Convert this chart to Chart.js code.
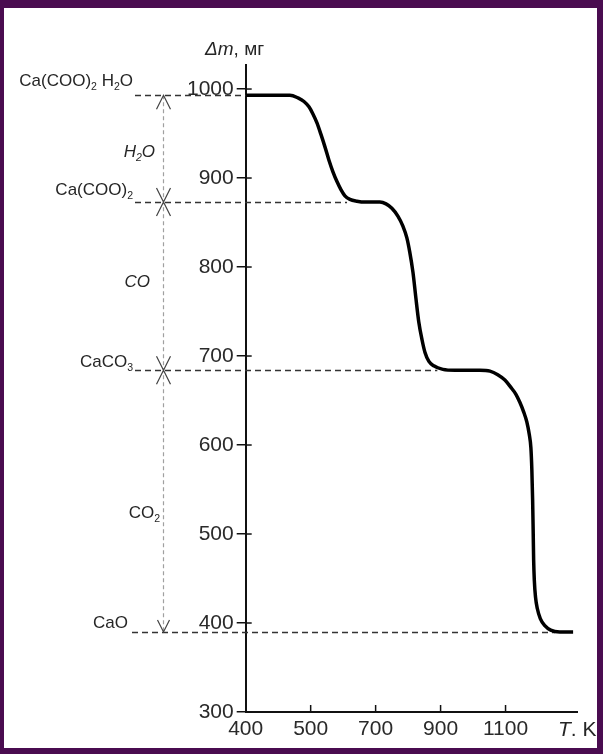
<!DOCTYPE html>
<html>
<head>
<meta charset="utf-8">
<title>Термогравиметрия оксалата кальция</title>
<script src="https://cdn.jsdelivr.net/npm/chart.js@4/dist/chart.umd.min.js"></script>
<style>
  html, body { margin: 0; padding: 0; background: #4a0c50; }
  #panel { position: absolute; left: 4px; top: 8px; width: 593px; height: 740px; background: #ffffff; }
  #c { position: absolute; left: 0; top: 0; }
</style>
</head>
<body>
<div id="panel"></div>
<canvas id="c" width="603" height="754"></canvas>
<script>
// Temperature axis: tick values (K), drawn at equal spacing, and their labels
const tempTicks = [400, 500, 700, 900, 1100];
const tempTickLabels = ['400', '500', '700', '900', '1100'];
// Mass axis ticks (mg)
const massTicks = [300, 400, 500, 600, 700, 800, 900, 1000];

// Thermogravimetric curve: temperature (K) and sample mass (mg)
const curveT = [400, 453, 468, 480.5, 489.7, 497.4, 507, 519.4, 531.7, 544,
                556.3, 568.6, 581, 593.2, 605.5, 621, 642.5, 667, 713, 732,
                750, 769, 784, 796, 805, 815, 824, 833, 843, 852,
                864, 879, 907, 944, 990, 1021, 1052, 1076, 1098, 1116,
                1132, 1144, 1156, 1165.5, 1173, 1178, 1181, 1183.4, 1185, 1186.5,
                1188.6, 1192.3, 1198, 1207, 1221, 1239, 1267, 1308];
const curveM = [993, 993, 993, 990, 986, 980, 972, 962, 949, 935,
                920, 907, 896, 887, 880, 876, 874, 873, 873, 871,
                866, 857, 846, 833, 817, 794, 765, 738, 718, 704,
                694, 689, 685, 684, 684, 684, 683, 679, 673, 665,
                657, 648, 637, 626, 612, 597, 572, 538, 505, 471,
                448, 429, 416, 405, 397, 392, 390, 390];

// Plateau compositions, their mass levels and where each level meets the curve
const phaseNames = ['Ca(COO)₂ H₂O', 'Ca(COO)₂', 'CaCO₃', 'CaO'];
const phaseMass = [993, 873, 684, 390];
const phaseEndT = [400, 612, 890, 1252];
// Gases released between successive plateaus
const gasNames = ['H₂O', 'CO', 'CO₂'];

const FONT = '"Liberation Sans", Arial, sans-serif';
const SUB = { '₀': '0', '₁': '1', '₂': '2', '₃': '3', '₄': '4', '₅': '5', '₆': '6', '₇': '7', '₈': '8', '₉': '9' };

// Linear temperature scale whose listed ticks sit at equal intervals
class TempIndexScale extends Chart.LinearScale {
  buildTicks() { return tempTicks.map(v => ({ value: v })); }
  _indexOf(v) {
    const t = tempTicks, n = t.length;
    for (let i = 0; i < n - 1; i++) {
      if (v <= t[i + 1] || i === n - 2) return i + (v - t[i]) / (t[i + 1] - t[i]);
    }
    return 0;
  }
  getPixelForValue(v) {
    const span = this._indexOf(this.max) - this._indexOf(this.min);
    return this.getPixelForDecimal((this._indexOf(v) - this._indexOf(this.min)) / span);
  }
  getValueForPixel(p) {
    const span = this._indexOf(this.max) - this._indexOf(this.min);
    const idx = this.getDecimalForPixel(p) * span + this._indexOf(this.min);
    const t = tempTicks, i = Math.max(0, Math.min(t.length - 2, Math.floor(idx)));
    return t[i] + (idx - i) * (t[i + 1] - t[i]);
  }
}
TempIndexScale.id = 'tempIndex';
TempIndexScale.defaults = {};
Chart.register(TempIndexScale);

// Draws a formula with subscript digits; align 'left' or 'right' at x, vertically centred on y
function drawFormula(ctx, str, x, y, size, italic, align) {
  const style = italic ? 'italic ' : '';
  const runs = [];
  for (const ch of str) {
    const sub = ch in SUB;
    const last = runs[runs.length - 1];
    if (last && last.sub === sub) last.t += sub ? SUB[ch] : ch;
    else runs.push({ t: sub ? SUB[ch] : ch, sub });
  }
  const fontFor = r => `${style}${r.sub ? size * 0.62 : size}px ${FONT}`;
  let total = 0;
  runs.forEach(r => { ctx.font = fontFor(r); r.w = ctx.measureText(r.t).width; total += r.w; });
  let cx = align === 'right' ? x - total : x;
  const base = y + size * 0.36;
  ctx.textBaseline = 'alphabetic';
  ctx.textAlign = 'left';
  runs.forEach(r => {
    ctx.font = fontFor(r);
    ctx.fillText(r.t, cx, r.sub ? base + size * 0.22 : base);
    cx += r.w;
  });
}

// Mixed italic / upright text run list
function drawRuns(ctx, runs, x, y, size) {
  let cx = x;
  ctx.textBaseline = 'middle';
  ctx.textAlign = 'left';
  runs.forEach(([t, it]) => {
    ctx.font = `${it ? 'italic ' : ''}${size}px ${FONT}`;
    ctx.fillText(t, cx, y);
    cx += ctx.measureText(t).width;
  });
}

const ARROW_X = 163;
const LEVEL_START_X = [135, 135, 135, 132];
const PHASE_LABEL_RIGHT = [133, 133, 133, 128];
const PHASE_LABEL_DY = [-15, -13, -9, -10];
const GAS_LABEL_RIGHT = [155, 150, 160];
const GAS_LABEL_DY = [2, -5, 11];
const GAS_ITALIC = [true, true, false];

const phaseAnnotations = {
  id: 'phaseAnnotations',
  beforeDatasetsDraw(chart) {
    const { ctx, scales: { x, y }, chartArea } = chart;
    ctx.save();

    // inward tick marks on both axes
    ctx.strokeStyle = '#111';
    ctx.lineWidth = 1.5;
    ctx.setLineDash([]);
    massTicks.forEach(v => {
      const py = y.getPixelForValue(v);
      ctx.beginPath(); ctx.moveTo(chartArea.left, py); ctx.lineTo(chartArea.left + 6, py); ctx.stroke();
    });
    tempTicks.slice(1).forEach(v => {
      const px = x.getPixelForValue(v);
      ctx.beginPath(); ctx.moveTo(px, chartArea.bottom); ctx.lineTo(px, chartArea.bottom - 7); ctx.stroke();
    });

    // dashed plateau levels
    ctx.strokeStyle = '#333';
    ctx.lineWidth = 1.4;
    ctx.setLineDash([6, 4]);
    phaseMass.forEach((m, i) => {
      const py = Math.round(y.getPixelForValue(m)) + 0.5;
      ctx.beginPath();
      ctx.moveTo(LEVEL_START_X[i], py);
      ctx.lineTo(x.getPixelForValue(phaseEndT[i]), py);
      ctx.stroke();
    });

    // vertical mass-loss guide
    const yTop = y.getPixelForValue(phaseMass[0]);
    const yBot = y.getPixelForValue(phaseMass[phaseMass.length - 1]);
    ctx.strokeStyle = '#a0a0a0';
    ctx.lineWidth = 1.2;
    ctx.setLineDash([4, 3]);
    ctx.beginPath(); ctx.moveTo(ARROW_X + 0.5, yTop); ctx.lineTo(ARROW_X + 0.5, yBot); ctx.stroke();

    // arrowheads
    ctx.setLineDash([]);
    ctx.strokeStyle = '#444';
    ctx.lineWidth = 1.2;
    const ax = ARROW_X + 0.5;
    ctx.beginPath();
    ctx.moveTo(ax - 7, yTop + 14); ctx.lineTo(ax, yTop); ctx.lineTo(ax + 7, yTop + 14);
    ctx.stroke();
    phaseMass.slice(1, -1).forEach(m => {
      const py = y.getPixelForValue(m);
      ctx.beginPath();
      ctx.moveTo(ax - 7, py - 14); ctx.lineTo(ax + 7, py + 14);
      ctx.moveTo(ax + 7, py - 14); ctx.lineTo(ax - 7, py + 14);
      ctx.stroke();
    });
    ctx.beginPath();
    ctx.moveTo(ax - 6, yBot - 12); ctx.lineTo(ax, yBot); ctx.lineTo(ax + 6, yBot - 12);
    ctx.stroke();
    ctx.restore();
  },
  afterDraw(chart) {
    const { ctx, scales: { y }, chartArea } = chart;
    ctx.save();
    ctx.fillStyle = '#262626';
    phaseNames.forEach((name, i) => {
      const py = y.getPixelForValue(phaseMass[i]) + PHASE_LABEL_DY[i];
      drawFormula(ctx, name, PHASE_LABEL_RIGHT[i], py, 17, false, 'right');
    });
    gasNames.forEach((name, i) => {
      const mid = (y.getPixelForValue(phaseMass[i]) + y.getPixelForValue(phaseMass[i + 1])) / 2;
      drawFormula(ctx, name, GAS_LABEL_RIGHT[i], mid + GAS_LABEL_DY[i], 17, GAS_ITALIC[i], 'right');
    });
    // axis titles
    drawRuns(ctx, [['Δm', true], [', мг', false]], 205, 50, 19);
    drawRuns(ctx, [['T', true], ['. K', false]], chartArea.right - 19, 730, 21);
    ctx.restore();
  }
};

new Chart(document.getElementById('c'), {
  type: 'line',
  data: {
    datasets: [{
      data: curveT.map((t, i) => ({ x: t, y: curveM[i] })),
      borderColor: '#000',
      borderWidth: 3.5,
      pointRadius: 0,
      fill: false,
      cubicInterpolationMode: 'monotone'
    }]
  },
  options: {
    responsive: false,
    animation: false,
    devicePixelRatio: 1,
    events: [],
    layout: { padding: { top: 65, right: 26, bottom: 0, left: 0 } },
    plugins: { legend: { display: false }, tooltip: { enabled: false } },
    scales: {
      x: {
        type: 'tempIndex',
        min: 400,
        max: 1320,
        afterFit(s) { s.height = 42; },
        grid: { drawOnChartArea: false, drawTicks: false },
        border: { display: true, color: '#111', width: 2 },
        ticks: {
          autoSkip: false, maxRotation: 0, padding: 5, color: '#2a2a2a',
          font: { family: FONT, size: 21 },
          callback: (v, i) => tempTickLabels[i]
        }
      },
      y: {
        type: 'linear',
        min: 300,
        max: 1027,
        afterBuildTicks(s) { s.ticks = massTicks.map(v => ({ value: v })); },
        afterFit(s) { s.width = 245.7; },
        grid: { drawOnChartArea: false, drawTicks: true, tickLength: 9, color: '#111', lineWidth: 1.5 },
        border: { display: true, color: '#111', width: 2 },
        ticks: {
          padding: 3, color: '#2a2a2a',
          font: { family: FONT, size: 21 },
          callback: v => String(v)
        }
      }
    }
  },
  plugins: [phaseAnnotations]
});
</script>
</body>
</html>
